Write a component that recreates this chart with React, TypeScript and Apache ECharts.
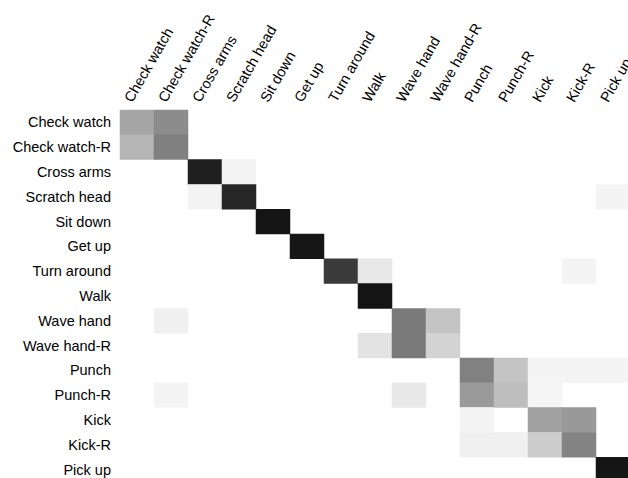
import React, { useEffect, useRef } from "react";
import * as echarts from "echarts";

const labels = [
  "Check watch",
  "Check watch-R",
  "Cross arms",
  "Scratch head",
  "Sit down",
  "Get up",
  "Turn around",
  "Walk",
  "Wave hand",
  "Wave hand-R",
  "Punch",
  "Punch-R",
  "Kick",
  "Kick-R",
  "Pick up",
];

// normalized confusion values: one row per true class, columns = predicted class
const rowCheckWatch = [0.35, 0.45, 0, 0, 0, 0, 0, 0, 0, 0, 0, 0, 0, 0, 0];
const rowCheckWatchR = [0.29, 0.5, 0, 0, 0, 0, 0, 0, 0, 0, 0, 0, 0, 0, 0];
const rowCrossArms = [0, 0, 0.88, 0.043, 0, 0, 0, 0, 0, 0, 0, 0, 0, 0, 0];
const rowScratchHead = [0, 0, 0.047, 0.847, 0, 0, 0, 0, 0, 0, 0, 0, 0, 0, 0.043];
const rowSitDown = [0, 0, 0, 0, 0.922, 0, 0, 0, 0, 0, 0, 0, 0, 0, 0];
const rowGetUp = [0, 0, 0, 0, 0, 0.914, 0, 0, 0, 0, 0, 0, 0, 0, 0];
const rowTurnAround = [0, 0, 0, 0, 0, 0, 0.773, 0.09, 0, 0, 0, 0, 0, 0.043, 0];
const rowWalk = [0, 0, 0, 0, 0, 0, 0, 0.922, 0, 0, 0, 0, 0, 0, 0];
const rowWaveHand = [0, 0.059, 0, 0, 0, 0, 0, 0, 0.525, 0.231, 0, 0, 0, 0, 0];
const rowWaveHandR = [0, 0, 0, 0, 0, 0, 0, 0.11, 0.525, 0.173, 0, 0, 0, 0, 0];
const rowPunch = [0, 0, 0, 0, 0, 0, 0, 0, 0, 0, 0.494, 0.231, 0.043, 0.043, 0.043];
const rowPunchR = [0, 0.043, 0, 0, 0, 0, 0, 0, 0.09, 0, 0.396, 0.259, 0.04, 0, 0];
const rowKick = [0, 0, 0, 0, 0, 0, 0, 0, 0, 0, 0.043, 0, 0.373, 0.4, 0];
const rowKickR = [0, 0, 0, 0, 0, 0, 0, 0, 0, 0, 0.059, 0.059, 0.2, 0.486, 0];
const rowPickUp = [0, 0, 0, 0, 0, 0, 0, 0, 0, 0, 0, 0, 0, 0, 0.918];

const matrix = [
  rowCheckWatch,
  rowCheckWatchR,
  rowCrossArms,
  rowScratchHead,
  rowSitDown,
  rowGetUp,
  rowTurnAround,
  rowWalk,
  rowWaveHand,
  rowWaveHandR,
  rowPunch,
  rowPunchR,
  rowKick,
  rowKickR,
  rowPickUp,
];

export default function App() {
  const ref = useRef<HTMLDivElement>(null);

  useEffect(() => {
    if (!ref.current) return;
    const chart = echarts.init(ref.current, undefined, { renderer: "svg" });
    const data: [number, number, number][] = [];
    matrix.forEach((row, r) =>
      row.forEach((v, c) => {
        if (v > 0) data.push([c, r, v]);
      })
    );
    const font = "'Liberation Sans', Arial, sans-serif";
    chart.setOption({
      animation: false,
      backgroundColor: "#ffffff",
      grid: {
        left: 120,
        top: 110,
        width: 510,
        height: 372,
        containLabel: false,
        outerBoundsMode: "none",
      },
      xAxis: {
        type: "category",
        data: labels,
        position: "top",
        axisLine: { show: false },
        axisTick: { show: false },
        splitLine: { show: false },
        axisLabel: {
          interval: 0,
          rotate: -60,
          margin: 4,
          align: "left",
          verticalAlign: "bottom",
          padding: [0, 0, 3, 0],
          fontSize: 14.5,
          color: "#000",
          fontFamily: font,
          hideOverlap: false,
        },
      },
      yAxis: {
        type: "category",
        data: labels,
        inverse: true,
        axisLine: { show: false },
        axisTick: { show: false },
        splitLine: { show: false },
        axisLabel: {
          interval: 0,
          margin: 9,
          fontSize: 14.5,
          color: "#000",
          fontFamily: font,
        },
      },
      visualMap: {
        show: false,
        min: 0,
        max: 1,
        inRange: { color: ["#ffffff", "#000000"] },
      },
      series: [
        {
          type: "heatmap",
          data,
          itemStyle: { borderWidth: 0 },
          emphasis: { disabled: true },
        },
      ],
    });
    return () => chart.dispose();
  }, []);

  return (
    <div
      ref={ref}
      style={{ position: "fixed", left: 0, top: 0, width: 628, height: 478 }}
    />
  );
}
